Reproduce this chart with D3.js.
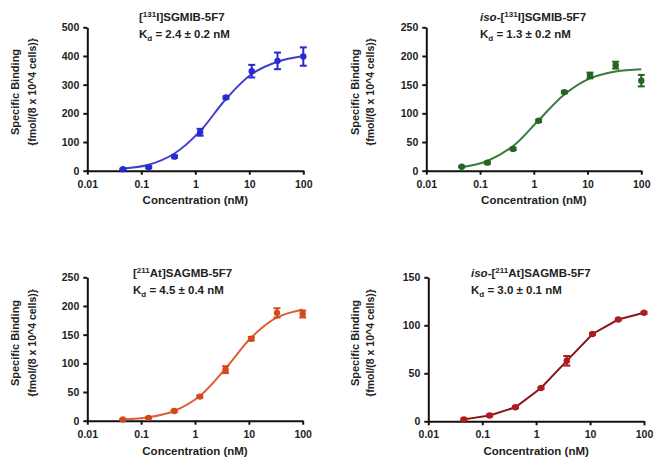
<!DOCTYPE html>
<html><head><meta charset="utf-8">
<script src="https://cdn.jsdelivr.net/npm/d3@7"></script>
<style>
body{margin:0;background:#fff;}
text{font-family:"Liberation Sans",Arial,sans-serif;font-weight:bold;fill:#222;}
</style></head>
<body><svg id="c" width="664" height="468"></svg>
<script>
// concentrations (nM), 3-fold dilutions
const conc = [0.0457, 0.137, 0.412, 1.23, 3.70, 11.1, 33.3, 100];
const xTicks = [0.01, 0.1, 1, 10, 100];
const xTickLabels = ["0.01", "0.1", "1", "10", "100"];

// Panel A: [131I]SGMIB-5F7
const meanA = [5, 12, 49, 134, 255, 347, 383, 398];
const errA  = [2, 3, 4, 12, 4, 22, 29, 32];
const fitA  = [8, 21, 60, 138, 250, 337, 380, 400];
const yTicksA = [0, 100, 200, 300, 400, 500];

// Panel B: iso-[131I]SGMIB-5F7
const meanB = [7, 14, 38, 87, 137, 166, 184, 157];
const errB  = [1, 2, 2, 2, 2, 5, 6, 10];
const fitB  = [6, 17, 43, 88, 133, 161, 173, 177];
const yTicksB = [0, 50, 100, 150, 200, 250];

// Panel C: [211At]SAGMB-5F7
const meanC = [2, 5, 17, 42, 89, 143, 188, 186];
const errC  = [1, 1, 2, 2, 6, 3, 8, 6];
const fitC  = [2, 6, 17, 43, 91, 145, 180, 194];
const yTicksC = [0, 50, 100, 150, 200, 250];

// Panel D: iso-[211At]SAGMB-5F7
const meanD = [2, 6, 14.6, 34.7, 63, 91, 106, 113];
const errD  = [1, 1, 1, 1, 5, 1, 1, 1];
const yTicksD = [0, 50, 100, 150];

const panels = [
  {iso:false, sup:"131", el:"I", name:"SGMIB-5F7", kd:"2.4 ± 0.2 nM", mean:meanA, err:errA, fit:fitA, yt:yTicksA,
   color:"#2a2ad2", lineColor:"#4040cc", x0:87.3, x1:303.3, y0:170.7, y1:27.3, tx:139, ty:21, yl:[15,32], ym:92, xl:200},
  {iso:true, sup:"131", el:"I", name:"SGMIB-5F7", kd:"1.3 ± 0.2 nM", mean:meanB, err:errB, fit:fitB, yt:yTicksB,
   color:"#226622", lineColor:"#3a7a3a", x0:426.3, x1:641.3, y0:170.7, y1:27.3, tx:480, ty:21, yl:[355,370], ym:92, xl:200},
  {iso:false, sup:"211", el:"At", name:"SAGMB-5F7", kd:"4.5 ± 0.4 nM", mean:meanC, err:errC, fit:fitC, yt:yTicksC,
   color:"#d04a1e", lineColor:"#dc5f38", x0:87.3, x1:302.7, y0:420.7, y1:277.3, tx:133, ty:277, yl:[15,32], ym:343, xl:451},
  {iso:true, sup:"211", el:"At", name:"SAGMB-5F7", kd:" 3.0 ± 0.1 nM", mean:meanD, err:errD, fit:null, yt:yTicksD,
   color:"#b01a1e", lineColor:"#8a1418", x0:428.3, x1:644, y0:421.3, y1:277.3, tx:471, ty:277, yl:[355,370], ym:343, xl:451}
];

const svg = d3.select("#c");

panels.forEach(p => {
  const ymax = p.yt[p.yt.length-1];
  const x = d3.scaleLog().domain([0.01, 100]).range([p.x0, p.x1]);
  const y = d3.scaleLinear().domain([0, ymax]).range([p.y0, p.y1]);
  const g = svg.append("g");

  // axes
  const xa = g.append("g").attr("transform", `translate(0,${p.y0})`)
    .call(d3.axisBottom(x).tickValues(xTicks).tickFormat((d,i)=>xTickLabels[i]).tickSize(4).tickSizeOuter(0));
  const ya = g.append("g").attr("transform", `translate(${p.x0},0)`)
    .call(d3.axisLeft(y).tickValues(p.yt).tickSize(4).tickSizeOuter(0));
  [xa, ya].forEach(a => {
    a.select(".domain").attr("stroke", "#111").attr("stroke-width", 2);
    a.selectAll(".tick line").attr("stroke", "#111").attr("stroke-width", 2);
    a.selectAll("text").attr("font-size", 10.5).attr("font-family", "Liberation Sans, Arial, sans-serif")
      .attr("font-weight", "bold").attr("fill", "#222");
  });
  xa.selectAll("text").attr("dy", "0.95em");
  ya.selectAll("text").attr("dx", "-0.1em");

  // fit line / connecting line
  const line = d3.line().x((d,i)=>x(conc[i])).y(d=>y(d));
  if (p.fit) line.curve(d3.curveCatmullRom.alpha(0.5));
  g.append("path").attr("d", line(p.fit || p.mean)).attr("fill", "none")
    .attr("stroke", p.lineColor).attr("stroke-width", 2);

  // error bars
  const eb = g.selectAll(".eb").data(p.mean).enter().append("g");
  eb.append("line").attr("x1",(d,i)=>x(conc[i])).attr("x2",(d,i)=>x(conc[i]))
    .attr("y1",(d,i)=>y(d-p.err[i])).attr("y2",(d,i)=>y(d+p.err[i]))
    .attr("stroke", p.color).attr("stroke-width", 2);
  [-1, 1].forEach(s => {
    eb.append("line").attr("x1",(d,i)=>x(conc[i])-3.5).attr("x2",(d,i)=>x(conc[i])+3.5)
      .attr("y1",(d,i)=>y(d+s*p.err[i])).attr("y2",(d,i)=>y(d+s*p.err[i]))
      .attr("stroke", p.color).attr("stroke-width", 2);
  });
  g.selectAll(".pt").data(p.mean).enter().append("circle")
    .attr("cx",(d,i)=>x(conc[i])).attr("cy",d=>y(d)).attr("r",3.2).attr("fill",p.color);

  // title
  const t1 = g.append("text").attr("x", p.tx).attr("y", p.ty).attr("font-size", 11.5);
  if (p.iso) t1.append("tspan").attr("font-style","italic").text("iso");
  t1.append("tspan").text(p.iso ? "-[" : "[");
  t1.append("tspan").attr("font-size", 8).attr("dy", -4).text(p.sup);
  t1.append("tspan").attr("dy", 4).text(p.el + "]" + p.name);
  const t2 = g.append("text").attr("x", p.tx).attr("y", p.ty + 16.5).attr("font-size", 11.5);
  t2.append("tspan").text("K");
  t2.append("tspan").attr("font-size", 8).attr("dy", 3).text("d");
  t2.append("tspan").attr("dy", -3).text(" = " + p.kd);

  // x label
  g.append("text").attr("x", (p.x0 + p.x1)/2).attr("y", p.xl).attr("dy","0.35em")
    .attr("text-anchor","middle").attr("font-size", 11.5).text("Concentration (nM)");
  // y label
  g.append("text").attr("transform", `translate(${p.yl[0]},${p.ym}) rotate(-90)`)
    .attr("text-anchor","middle").attr("dy","0.35em").attr("font-size", 11).text("Specific Binding");
  g.append("text").attr("transform", `translate(${p.yl[1]},${p.ym}) rotate(-90)`)
    .attr("text-anchor","middle").attr("dy","0.35em").attr("font-size", 10.5).text("{fmol/(8 x 10^4 cells)}");
});
</script></body></html>
